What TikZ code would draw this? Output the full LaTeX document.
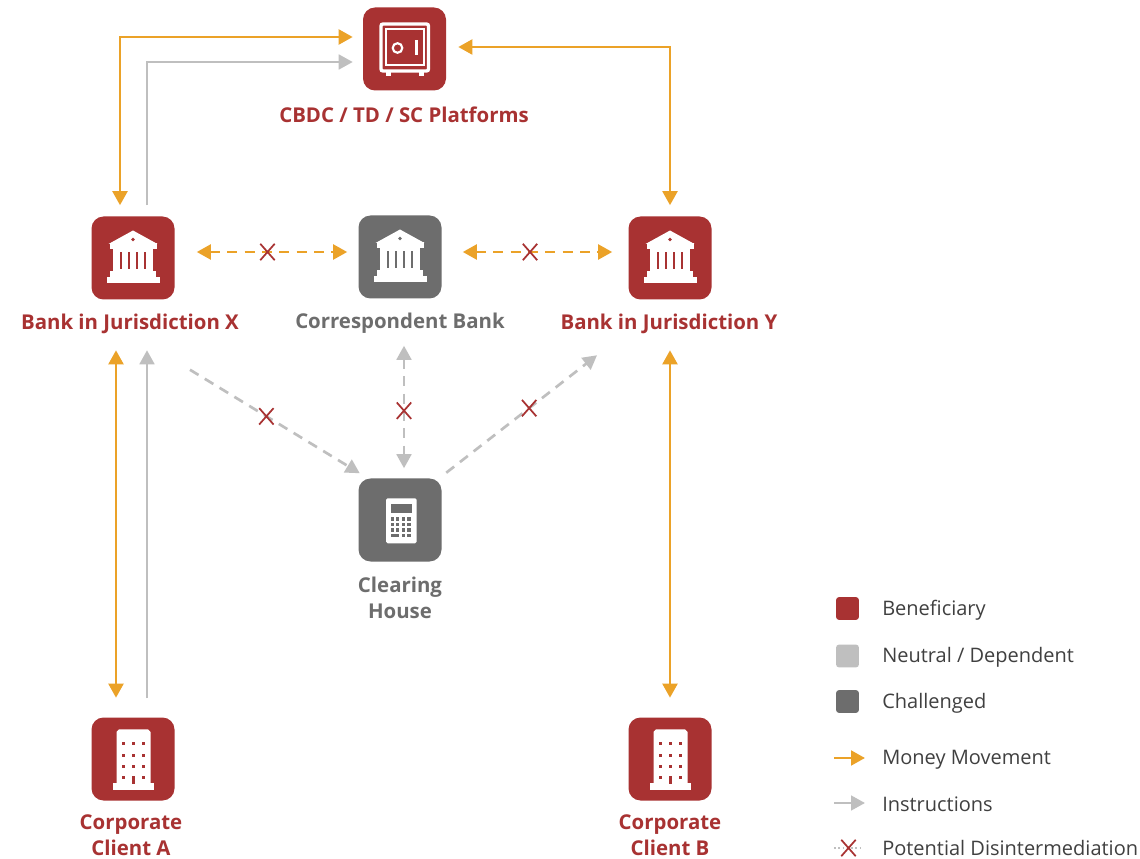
\documentclass[tikz,border=0pt]{standalone}
\usepackage{fontspec}
\setmainfont{Open Sans}
\usetikzlibrary{arrows.meta,calc,shapes.misc}
\definecolor{bred}{HTML}{A83232}
\definecolor{morange}{HTML}{EBA228}
\definecolor{lgray}{HTML}{BFBFBF}
\definecolor{dgray}{HTML}{6D6D6D}
\definecolor{ltext}{HTML}{404040}
\tikzset{
  iconbox/.style={minimum size=62.25pt, inner sep=0pt, rounded corners=9pt},
  lbl/.style={font=\fontsize{15.3}{19.5}\selectfont\bfseries, align=center, inner sep=0pt},
  legtext/.style={font=\fontsize{15}{17}\selectfont, text=ltext, anchor=west, inner sep=0pt},
  legsq/.style={minimum size=17pt, inner sep=0pt, rounded corners=2pt},
  tipstyle/.style={>={Triangle[width=11pt,length=10.5pt]}},
  money/.style={draw=morange, line width=2.2pt, tipstyle},
  instr/.style={draw=lgray, line width=2pt, tipstyle},
  dashpat/.style={dash pattern=on 7.5pt off 5.5pt},
  xmark/.style={cross out, draw=bred, line width=1.3pt, minimum width=9.5pt, minimum height=11pt, inner sep=0pt},
  bankicon/.pic={
    \fill[white] (-24.5,-14) -- (0,-27.5) -- (24.5,-14) -- cycle;
    \fill[white] (-23.5,-14.5) rectangle (23.5,-8.5);
    \fill[white] (-20,-9) rectangle (20,13.5);
    \foreach \gx in {-12,-4,4,12} {\fill[#1] (\gx-1.4,-6) rectangle (\gx+1.4,11);}
    \fill[#1] (0,-18.5) circle (1.8);
    \fill[white] (-23,13) rectangle (23,19.5);
    \fill[white] (-26.5,19.5) rectangle (26.5,25.5);
  },
  safeicon/.pic={
    \draw[white, line width=2.5pt, rounded corners=1.5pt] (-23.5,-25) rectangle (24,22);
    \draw[white, line width=1.5pt] (-18.5,-19.5) rectangle (19,16.5);
    \fill[white] (-19,22) rectangle (-14,27.5);
    \fill[white] (14.5,22) rectangle (19.5,27.5);
    \draw[white, line width=1.6pt] (-7,-1) circle (4.8);
    \fill[white] (10.8,-8.5) rectangle (13.8,6);
  },
  calcicon/.pic={
    \fill[white, rounded corners=1.2pt] (-14,-21.7) rectangle (16.7,23.3);
    \fill[dgray] (-9.3,-16) rectangle (12.3,-7.3);
    \foreach \kx/\kw in {-9.3/-5.7,-4/-0.7,1.7/5,7.3/11} {
      \foreach \ky/\kh in {-2.7/1,2.7/6,8.3/11.7} {\fill[dgray] (\kx,\ky) rectangle (\kw,\kh);}
    }
    \fill[dgray] (-9.3,14) rectangle (-0.7,17.3);
    \fill[dgray] (1.7,14) rectangle (5,17.3);
    \fill[dgray] (7.3,14) rectangle (11,17.3);
  },
  buildicon/.pic={
    \fill[white] (-16.5,-27) -- (-14,-29.7) -- (15,-29.7) -- (17.5,-27) -- (17.5,25) -- (-16.5,25) -- cycle;
    \fill[white] (-20,24) rectangle (21,31);
    \foreach \wx in {-9.7,0.3,10.3} {
      \foreach \wy in {-15.7,-4,7} {\fill[bred] (\wx-1.5,\wy-1.5) rectangle (\wx+1.5,\wy+1.5);}
    }
    \fill[bred] (-9.7-1.5,18.3-1.5) rectangle (-9.7+1.5,18.3+1.5);
    \fill[bred] (10.3-1.5,18.3-1.5) rectangle (10.3+1.5,18.3+1.5);
    \fill[bred] (-1.3,16.5) rectangle (2.3,24.5);
  }
}
\begin{document}
\begin{tikzpicture}[x=0.75pt,y=-0.75pt]
\useasboundingbox (0,0) rectangle (1140,859);
\fill[white] (0,0) rectangle (1140,859);

% icon boxes
\node[iconbox, fill=bred] (cbdc) at (404.5,49) {};
\node[iconbox, fill=bred] (bx) at (133,258) {};
\node[iconbox, fill=dgray] (cb) at (400,257) {};
\node[iconbox, fill=bred] (by) at (670,258) {};
\node[iconbox, fill=dgray] (ch) at (400,520) {};
\node[iconbox, fill=bred] (ca) at (133,759) {};
\node[iconbox, fill=bred] (cbB) at (670,759) {};

\pic at (cbdc) {safeicon};
\pic at (bx) {bankicon=bred};
\pic at (cb) {bankicon=dgray};
\pic at (by) {bankicon=bred};
\pic at (ch) {calcicon};
\pic at (ca) {buildicon};
\pic at (cbB) {buildicon};

% labels
\node[lbl, text=bred] (cbdcl) at (404,115) {CBDC / TD / SC Platforms};
\node[lbl, text=bred] (bxl) at (130,323.5) {Bank in Jurisdiction X};
\node[lbl, text=dgray] (cbl) at (400,323.5) {Correspondent Bank};
\node[lbl, text=bred] (byl) at (669,323.5) {Bank in Jurisdiction Y};
\node[lbl, text=dgray] (chl) at (400,598) {Clearing\\House};
\node[lbl, text=bred] (cal) at (131,835) {Corporate\\Client A};
\node[lbl, text=bred] (cbBl) at (670,835) {Corporate\\Client B};

% top connectors
\draw[money,<->] ($(bx.north)+(-13,-11)$) |- ($(cbdc.west)+(-10,-12)$);
\draw[instr,->] ($(bx.north)+(14,-11)$) |- ($(cbdc.west)+(-10,13)$);
\draw[money,<->] ($(cbdc.east)+(12,-2)$) -| ($(by.north)+(0,-11)$);

% horizontal dashed
\draw[money,dashpat,<->] ($(bx.east)+(22,-6)$) -- node[xmark, pos=0.47, solid]{} ($(cb.west)+(-11,-5)$);
\draw[money,dashpat,<->] ($(cb.east)+(21,-5)$) -- node[xmark, pos=0.45, solid]{} ($(by.west)+(-16,-6)$);

% clearing house dashed
\draw[instr,dashpat,->] ($(bx.south)+(57,70)$) -- node[xmark, pos=0.45, solid]{} ($(ch.north west)+(1.5,-5)$);
\draw[instr,dashpat,<->] ($(cb.south)+(4,47)$) -- node[xmark, pos=0.53, solid]{} ($(ch.north)+(4,-10)$);
\draw[instr,dashpat,->] ($(ch.north east)+(4.5,-5.5)$) -- node[xmark, pos=0.55, solid]{} ($(by.south)+(-73,55.5)$);

% vertical client connectors
\draw[money,<->] ($(bx.south)+(-17,50.5)$) -- ($(ca.north)+(-17,-19.5)$);
\draw[instr,->] ($(ca.north)+(14,-19)$) -- ($(bx.south)+(14,50.5)$);
\draw[money,<->] ($(by.south)+(0,50.5)$) -- ($(cbB.north)+(0,-19.5)$);

% legend
\node[legsq, fill=bred] (lg1) at (847.5,608.5) {};
\node[legsq, fill=lgray] (lg2) at (847.5,656) {};
\node[legsq, fill=dgray] (lg3) at (847.5,701.5) {};
\node[legtext] (lt1) at (882,610.5) {Beneficiary};
\node[legtext] (lt2) at (882,657.5) {Neutral / Dependent};
\node[legtext] (lt3) at (882,703.5) {Challenged};
\coordinate (lm1) at (834,758);
\coordinate (lm2) at (865,758);
\draw[money,->] (lm1) -- (lm2);
\node[legtext] (lt4) at (882,759.5) {Money Movement};
\coordinate (li1) at (834,803);
\coordinate (li2) at (865,803);
\draw[instr,->] (li1) -- (li2);
\node[legtext] (lt5) at (882,804.5) {Instructions};
\coordinate (ld1) at (834,848);
\coordinate (ld2) at (863,848);
\draw[lgray, line width=1.2pt, dotted] (ld1) -- node[xmark, solid]{} (ld2);
\node[legtext] (lt6) at (882,848) {Potential Disintermediation};
\end{tikzpicture}
\end{document}
